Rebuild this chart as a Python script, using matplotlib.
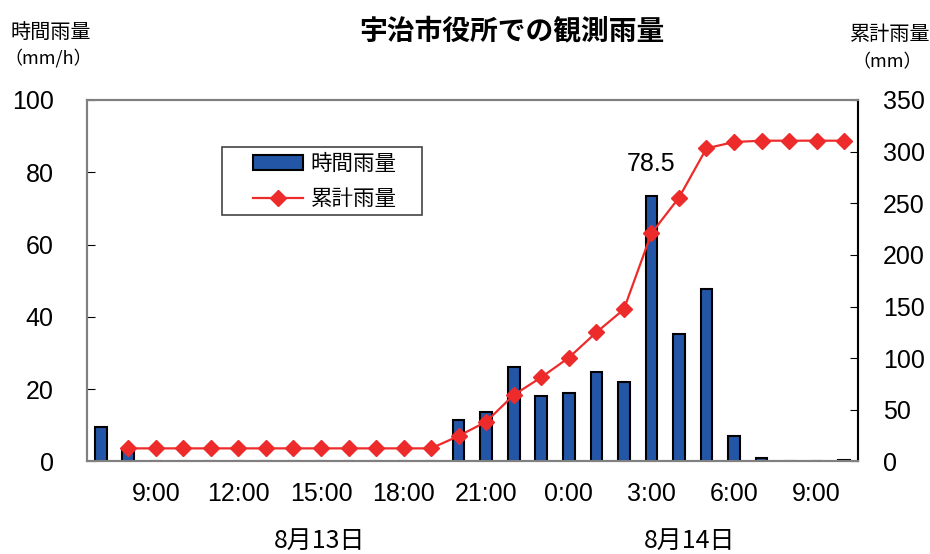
import matplotlib.pyplot as plt
from matplotlib.patches import Rectangle
import numpy as np

plt.rcParams['font.family'] = ['Liberation Sans', 'Noto Sans CJK JP']

# hours counted from 0:00 on 8/13
bar_hours = list(range(7, 35))
hourly = [9.6, 3.1, 0, 0, 0, 0, 0, 0, 0, 0, 0, 0, 0, 11.5, 13.8, 26, 18, 19,
          24.7, 22.1, 73.5, 35.3, 47.8, 7.1, 1.0, 0, 0, 0.5]
line_hours = list(range(8, 35))
cumulative = [12.7, 12.7, 12.7, 12.7, 12.7, 12.7, 12.7, 12.7, 12.7, 12.7, 12.7, 12.7,
              24.7, 38.5, 64.4, 81.5, 100.5, 125, 147.3, 220.9, 255.4, 303.2,
              309.3, 310.6, 310.6, 310.6, 310.6]
tick_hours = [9, 12, 15, 18, 21, 24, 27, 30, 33]
tick_labels = ["9:00", "12:00", "15:00", "18:00", "21:00", "0:00", "3:00", "6:00", "9:00"]

jp = ['Noto Sans CJK JP']

fig = plt.figure(figsize=(9.3, 5.54), dpi=100)
ax = fig.add_axes([0.0935, 0.167, 0.829, 0.6525])
ax2 = ax.twinx()

bars = ax.bar(bar_hours, hourly, width=0.42, color='#2356A6', edgecolor='black',
              linewidth=1.5, label='時間雨量', zorder=2)
line, = ax2.plot(line_hours, cumulative, color='#EE2B2B', lw=1.6, marker='D',
                 markersize=8, label='累計雨量', zorder=3)

ax.set_xlim(6.5, 34.5)
ax.set_ylim(0, 100)
ax2.set_ylim(0, 350)
ax.set_yticks(np.arange(0, 101, 20))
ax2.set_yticks(np.arange(0, 351, 50))
ax.set_xticks(tick_hours)
ax.set_xticklabels(tick_labels)
ax.tick_params(axis='x', length=0, labelsize=18, pad=15)
ax.tick_params(axis='y', direction='in', length=6, labelsize=18, pad=24)
ax2.tick_params(axis='y', direction='in', length=6, labelsize=18, pad=18)

for a in (ax, ax2):
    for s in a.spines.values():
        s.set_color('#808080')
        s.set_linewidth(1.5)
ax2.spines['right'].set_color('black')

ax.annotate('78.5', xy=(27, 73.5), xytext=(0, 14), textcoords='offset points',
            ha='center', va='bottom', fontsize=18)

fig.text(0.55, 0.943, '宇治市役所での観測雨量', ha='center', va='center',
         fontsize=20, fontweight='bold', family=jp)
fig.text(0.055, 0.942, '時間雨量', ha='center', va='center', fontsize=14.5, family=jp)
fig.text(0.052, 0.895, '（mm/h）', ha='center', va='center', fontsize=13, family=jp)
fig.text(0.957, 0.937, '累計雨量', ha='center', va='center', fontsize=14.5, family=jp)
fig.text(0.954, 0.888, '（mm）', ha='center', va='center', fontsize=13, family=jp)
fig.text(0.344, 0.024, '8月13日', ha='center', va='center', fontsize=18, family=jp)
fig.text(0.742, 0.024, '8月14日', ha='center', va='center', fontsize=18, family=jp)

# legend box is wider than its content, so draw the frame separately
ax2.add_patch(Rectangle((0.175, 0.682), 0.2595, 0.188, transform=ax2.transAxes,
                        facecolor='white', edgecolor='#444444', lw=1.2, zorder=4))
leg = ax2.legend([bars, line], ['時間雨量', '累計雨量'], loc='upper left',
                 bbox_to_anchor=(0.216, 0.853), frameon=False,
                 prop={'family': jp, 'size': 15.5},
                 handlelength=2.3, borderpad=0, labelspacing=0.6,
                 borderaxespad=0, handletextpad=0.35)
leg.set_zorder(5)

plt.savefig('out.png', dpi=100)
